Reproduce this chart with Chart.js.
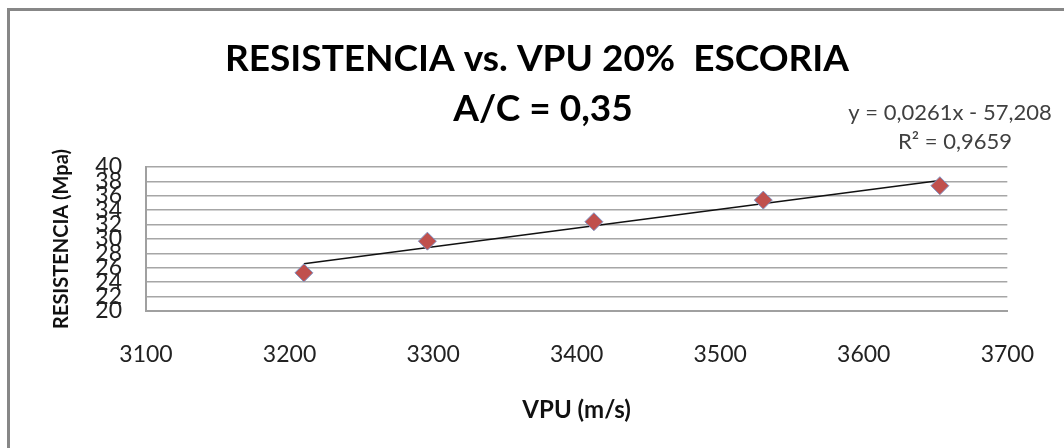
<!DOCTYPE html>
<html>
<head>
<meta charset="utf-8">
<script src="https://cdn.jsdelivr.net/npm/chart.js@4/dist/chart.umd.min.js"></script>
<style>
  html, body { margin: 0; padding: 0; background: #fff; }
  #wrap { position: relative; width: 1064px; height: 448px; }
</style>
</head>
<body>
<div id="wrap"><canvas id="chart" width="1064" height="448"></canvas></div>
<script>
// Data
const vpu = [3210, 3296, 3412, 3530, 3653];
const resistencia = [25.3, 29.7, 32.4, 35.4, 37.4];
const yTicks = [20, 22, 24, 26, 28, 30, 32, 34, 36, 38, 40];
const xTicks = [3100, 3200, 3300, 3400, 3500, 3600, 3700];

// Linear trendline as printed on the chart
const slope = 0.0261;
const intercept = -57.208;
const eqLines = ['y = 0,0261x - 57,208', 'R² = 0,9659'];
const titleLines = ['RESISTENCIA vs. VPU 20%  ESCORIA', 'A/C = 0,35'];

const FONT = 'Lato, "Open Sans", sans-serif';

const xMin = Math.min(...vpu), xMax = Math.max(...vpu);
const trend = [
    { x: xMin, y: slope * xMin + intercept },
    { x: xMax, y: slope * xMax + intercept }
];

// frame + titles + equation text
const decorations = {
    id: 'decorations',
    beforeDraw(chart) {
        const ctx = chart.ctx;
        ctx.save();
        ctx.strokeStyle = '#878787';
        ctx.lineWidth = 3;
        ctx.strokeRect(8.5, 9.5, 1100, 600);
        ctx.restore();
    },
    afterDraw(chart) {
        const ctx = chart.ctx;
        ctx.save();
        ctx.fillStyle = '#000';
        ctx.textAlign = 'center';
        ctx.textBaseline = 'middle';
        ctx.font = 'bold 37px ' + FONT;
        ctx.fillText(titleLines[0], 537, 59);
        ctx.fillText(titleLines[1], 543, 109);
        ctx.fillStyle = '#404040';
        ctx.font = '22px ' + FONT;
        ctx.fillText(eqLines[0], 950, 113);
        ctx.fillText(eqLines[1], 955, 142);
        ctx.restore();
    }
};

new Chart(document.getElementById('chart'), {
    type: 'scatter',
    data: {
        datasets: [
            {
                label: 'RESISTENCIA',
                data: vpu.map((v, i) => ({ x: v, y: resistencia[i] })),
                pointStyle: 'rectRot',
                pointRadius: 9,
                pointHoverRadius: 9,
                backgroundColor: '#C0504D',
                borderColor: '#7f93c4',
                borderWidth: 1,
                order: 1
            },
            {
                label: 'Lineal',
                data: trend,
                type: 'line',
                showLine: true,
                pointRadius: 0,
                borderColor: '#111',
                borderWidth: 1.5,
                fill: false,
                order: 2
            }
        ]
    },
    options: {
        responsive: false,
        animation: false,
        layout: { padding: { left: 0, top: 167, right: 53, bottom: 0 } },
        plugins: {
            legend: { display: false },
            tooltip: { enabled: false },
            title: { display: false }
        },
        scales: {
            x: {
                type: 'linear',
                min: xTicks[0],
                max: xTicks[xTicks.length - 1],
                afterBuildTicks: s => { s.ticks = xTicks.map(v => ({ value: v })); },
                afterFit: s => { s.height = 448 - 311; },
                grid: { display: false, drawTicks: false },
                border: { display: true, color: '#a0a0a0', width: 2 },
                ticks: {
                    padding: 30,
                    color: '#222',
                    font: { family: FONT, size: 23 },
                    callback: v => String(v)
                },
                title: {
                    display: true,
                    text: 'VPU (m/s)',
                    color: '#111',
                    font: { family: FONT, size: 24, weight: 'bold' },
                    padding: { bottom: 23 }
                }
            },
            y: {
                min: yTicks[0],
                max: yTicks[yTicks.length - 1],
                afterBuildTicks: s => { s.ticks = yTicks.map(v => ({ value: v })); },
                afterFit: s => { s.width = 146; },
                grid: { color: '#a6a6a6', lineWidth: 1.5, drawTicks: false },
                border: { display: true, color: '#a0a0a0', width: 2 },
                ticks: {
                    autoSkip: false,
                    padding: 24,
                    color: '#222',
                    font: { family: FONT, size: 23 },
                    callback: v => String(v)
                },
                title: {
                    display: true,
                    text: 'RESISTENCIA (Mpa)',
                    color: '#111',
                    font: { family: FONT, size: 20, weight: 'bold' },
                    padding: { top: 50 }
                }
            }
        }
    },
    plugins: [decorations]
});
</script>
</body>
</html>
